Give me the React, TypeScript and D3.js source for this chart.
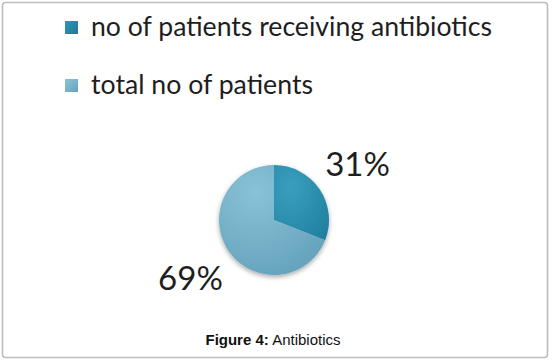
import React from "react";
import * as d3 from "d3";

const categories = ["no of patients receiving antibiotics", "total no of patients"];
const values = [31, 69];
const percentLabels = ["31%", "69%"];
const captionBold = "Figure 4:";
const captionText = " Antibiotics";

const W = 555;
const H = 364;
const cx = 274;
const cy = 220;
const R = 55;

export default function App() {
  const pie = d3.pie<number>().sort(null).value((d) => d);
  const arcs = pie(values);
  const arc = d3.arc<d3.PieArcDatum<number>>().innerRadius(0).outerRadius(R);
  const labelArc = d3.arc<d3.PieArcDatum<number>>().innerRadius(101).outerRadius(101);
  const fills = ["url(#gDark)", "url(#gLight)"];
  const legendFills = ["url(#lgDark)", "url(#lgLight)"];
  const legendTextLen = [401, 222];

  return (
    <div style={{ position: "fixed", left: 0, top: 0 }}>
      <svg width={W} height={H} style={{ display: "block", background: "#fff" }}>
        <defs>
          <radialGradient id="gDark" cx="0.3" cy="0.3" r="0.9">
            <stop offset="0" stopColor="#3a9fbe" />
            <stop offset="1" stopColor="#217f9f" />
          </radialGradient>
          <radialGradient id="gLight" cx="0.35" cy="0.25" r="0.85">
            <stop offset="0" stopColor="#88c2d8" />
            <stop offset="1" stopColor="#64a1ba" />
          </radialGradient>
          <linearGradient id="lgDark" x1="0" y1="0" x2="1" y2="1">
            <stop offset="0" stopColor="#3097b6" />
            <stop offset="1" stopColor="#1f7894" />
          </linearGradient>
          <linearGradient id="lgLight" x1="0" y1="0" x2="1" y2="1">
            <stop offset="0" stopColor="#8cc4d9" />
            <stop offset="1" stopColor="#65a3bb" />
          </linearGradient>
          <filter id="shadow" x="-30%" y="-30%" width="160%" height="160%">
            <feGaussianBlur in="SourceAlpha" stdDeviation="2.5" />
            <feOffset dx="0" dy="2" result="b" />
            <feComponentTransfer>
              <feFuncA type="linear" slope="0.35" />
            </feComponentTransfer>
            <feMerge>
              <feMergeNode />
              <feMergeNode in="SourceGraphic" />
            </feMerge>
          </filter>
        </defs>
        <rect x={2.5} y={2.5} width={545} height={355} rx={3} fill="#fff" stroke="#bdbdbd" strokeWidth={1.6} />

        {categories.map((c, i) => (
          <g key={c} transform={`translate(65, ${21 + i * 58})`}>
            <rect width={13} height={13} fill={legendFills[i]} />
            <text
              x={26}
              y={15}
              fontFamily="Lato, 'Open Sans', sans-serif"
              fontSize={27}
              fill="#1e1e1e"
              textLength={legendTextLen[i]}
              lengthAdjust="spacingAndGlyphs"
            >
              {c}
            </text>
          </g>
        ))}

        <g transform={`translate(${cx}, ${cy})`} filter="url(#shadow)">
          {arcs.map((a, i) => (
            <path key={i} d={arc(a) || ""} fill={fills[i]} />
          ))}
        </g>
        <g transform={`translate(${cx}, ${cy})`}>
          {arcs.map((a, i) => {
            const [x, y] = labelArc.centroid(a);
            return (
              <text
                key={i}
                x={x}
                y={y}
                textAnchor="middle"
                dominantBaseline="central"
                fontFamily="Lato, 'Open Sans', sans-serif"
                fontSize={33}
                fill="#1e1e1e"
              >
                {percentLabels[i]}
              </text>
            );
          })}
        </g>

        <text x={273} y={345} textAnchor="middle" fontFamily="Arial, 'Liberation Sans', sans-serif" fontSize={15} fill="#111">
          <tspan fontWeight="bold">{captionBold}</tspan>
          <tspan>{captionText}</tspan>
        </text>
      </svg>
    </div>
  );
}
